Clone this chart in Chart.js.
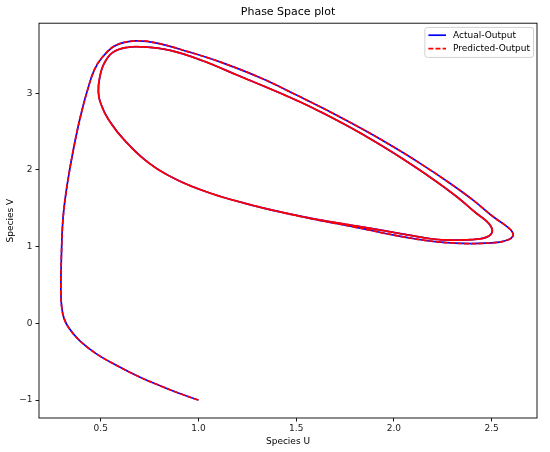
<!DOCTYPE html>
<html>
<head>
<meta charset="utf-8">
<title>Phase Space plot</title>
<script src="https://cdn.jsdelivr.net/npm/chart.js@4.4.1/dist/chart.umd.min.js"></script>
<style>
  html,body{margin:0;padding:0;background:#fff;}
  #chart{display:block;}
</style>
</head>
<body>
<canvas id="chart" width="550" height="452"></canvas>
<script>
// ---------- values ----------
// transient: starts at (1,-1), sweeps the outer loop, lands on the lower branch
const transientU = [1.000,0.915,0.816,0.696,0.577,0.474,0.389,0.338,0.312,0.300,0.296,0.297,0.300,0.304,0.311,0.322,0.336,
  0.356,0.380,0.404,0.432,0.466,0.509,0.577,0.679,0.782,0.950,1.120,1.328,1.507,1.687,1.866,2.001,2.136,2.279,2.405,
  2.513,2.572,2.605,2.608,2.585,2.540,2.470,2.395,2.315,2.225,2.136,2.000,1.800,1.597,1.417];
const transientV = [-1.000,-0.925,-0.826,-0.696,-0.543,-0.391,-0.217,-0.065,0.065,0.217,0.400,0.700,1.000,1.260,1.480,1.700,1.930,
  2.215,2.518,2.779,3.039,3.299,3.473,3.625,3.683,3.658,3.540,3.400,3.190,2.970,2.741,2.496,2.296,2.083,1.840,1.607,
  1.380,1.275,1.195,1.135,1.090,1.060,1.045,1.040,1.045,1.062,1.090,1.150,1.255,1.355,1.452];

// limit cycle (inner loop), one lap starting on the lower branch
const cycleU = [1.238,1.058,0.884,0.747,0.628,0.542,0.500,0.488,0.495,0.517,0.560,0.628,0.713,0.850,1.021,1.200,1.420,
  1.600,1.780,1.930,2.070,2.200,2.320,2.420,2.475,2.500,2.500,2.475,2.425,2.360,2.290,2.200,2.100,1.956,1.777,1.597,1.417];
const cycleV = [1.565,1.700,1.880,2.090,2.370,2.648,2.866,3.017,3.212,3.387,3.530,3.595,3.605,3.562,3.425,3.235,3.000,
  2.790,2.550,2.328,2.104,1.880,1.654,1.439,1.330,1.245,1.175,1.125,1.098,1.088,1.086,1.100,1.140,1.205,1.283,1.360,1.455];
const cyclePasses = 3;

const seriesNames = ['Actual-Output', 'Predicted-Output'];
const xTicks = [0.5, 1.0, 1.5, 2.0, 2.5];
const xTickLabels = ['0.5', '1.0', '1.5', '2.0', '2.5'];
const yTicks = [-1, 0, 1, 2, 3];
const yTickLabels = ['\u22121', '0', '1', '2', '3'];
const xRange = [0.184, 2.732];
const yRange = [-1.234, 3.914];

const FONT = "'DejaVu Sans', sans-serif";

// ---------- build the path ----------
const pathU = transientU.slice(), pathV = transientV.slice();
for (let k = 0; k < cyclePasses; k++) { pathU.push(...cycleU); pathV.push(...cycleV); }
const points = pathU.map((u, i) => ({x: u, y: pathV[i]}));

// ---------- plugins: axes frame + matplotlib-style legend ----------
const framePlugin = {
  id: 'frame',
  afterDatasetsDraw(chart) {
    const {ctx, chartArea: a} = chart;
    ctx.save();
    ctx.strokeStyle = '#000'; ctx.lineWidth = 0.9;
    ctx.strokeRect(a.left, a.top, a.right - a.left, a.bottom - a.top);
    ctx.restore();
  }
};

const legendPlugin = {
  id: 'legendBox',
  afterDraw(chart) {
    const {ctx, chartArea: a} = chart;
    const sets = chart.data.datasets;
    ctx.save();
    ctx.font = '9px ' + FONT;
    const textW = Math.max(...sets.map(d => ctx.measureText(d.label).width));
    const pad = 3.5, handle = 17.6, gap = 7, h = 30;
    const w = pad * 2 + handle + gap + textW;
    const x = a.right - 3.5 - w, y = a.top + 4.2;
    ctx.fillStyle = 'rgba(255,255,255,0.8)';
    ctx.strokeStyle = '#cccccc'; ctx.lineWidth = 0.9;
    ctx.beginPath();
    if (ctx.roundRect) ctx.roundRect(x, y, w, h, 2.5); else ctx.rect(x, y, w, h);
    ctx.fill(); ctx.stroke();
    sets.forEach((d, i) => {
      const cy = y + 7.8 + i * 13.4;
      ctx.strokeStyle = d.borderColor; ctx.lineWidth = d.borderWidth;
      ctx.setLineDash(d.borderDash || []);
      ctx.beginPath(); ctx.moveTo(x + pad, cy); ctx.lineTo(x + pad + handle, cy); ctx.stroke();
      ctx.setLineDash([]);
      ctx.fillStyle = '#000'; ctx.textBaseline = 'middle'; ctx.textAlign = 'left';
      ctx.fillText(d.label, x + pad + handle + gap, cy);
    });
    ctx.restore();
  }
};

// ---------- chart ----------
const tickFont = {family: FONT, size: 9};
const gridOpts = {display: true, drawOnChartArea: false, drawTicks: true, tickLength: 3.5, tickColor: '#000', tickWidth: 0.9};

new Chart(document.getElementById('chart'), {
  type: 'scatter',
  data: {
    datasets: [
      {label: seriesNames[0], data: points, showLine: true, borderColor: '#0000ff', borderWidth: 1.7,
       pointRadius: 0, tension: 0.4, order: 1},
      {label: seriesNames[1], data: points, showLine: true, borderColor: '#ff0000', borderWidth: 1.7,
       borderDash: [5, 2.1], pointRadius: 0, tension: 0.4, order: 0}
    ]
  },
  options: {
    responsive: false,
    animation: false,
    devicePixelRatio: 1,
    events: [],
    layout: {padding: {left: 0, right: 13, top: 0, bottom: 0}},
    plugins: {
      legend: {display: false},
      tooltip: {enabled: false},
      title: {display: true, fullSize: false, text: 'Phase Space plot', color: '#000',
              font: {family: FONT, size: 11, weight: 'normal'}, padding: {top: 6, bottom: 4}}
    },
    scales: {
      x: {
        type: 'linear', min: xRange[0], max: xRange[1],
        afterBuildTicks: s => { s.ticks = xTicks.map(v => ({value: v})); },
        afterFit: s => { s.height = 34; },
        ticks: {autoSkip: false, maxRotation: 0, padding: 2, color: '#222', font: tickFont,
                callback: v => xTickLabels[xTicks.indexOf(v)]},
        grid: gridOpts,
        border: {display: false},
        title: {display: true, text: 'Species U', color: '#000', font: tickFont, padding: {top: 0, bottom: 5}}
      },
      y: {
        type: 'linear', min: yRange[0], max: yRange[1],
        afterBuildTicks: s => { s.ticks = yTicks.map(v => ({value: v})); },
        afterFit: s => { s.width = 39; },
        ticks: {autoSkip: false, padding: 3, color: '#222', font: tickFont,
                callback: v => yTickLabels[yTicks.indexOf(v)]},
        grid: gridOpts,
        border: {display: false},
        title: {display: true, text: 'Species V', color: '#000', font: tickFont, padding: {top: 5.5, bottom: 0}}
      }
    }
  },
  plugins: [framePlugin, legendPlugin]
});
</script>
</body>
</html>
